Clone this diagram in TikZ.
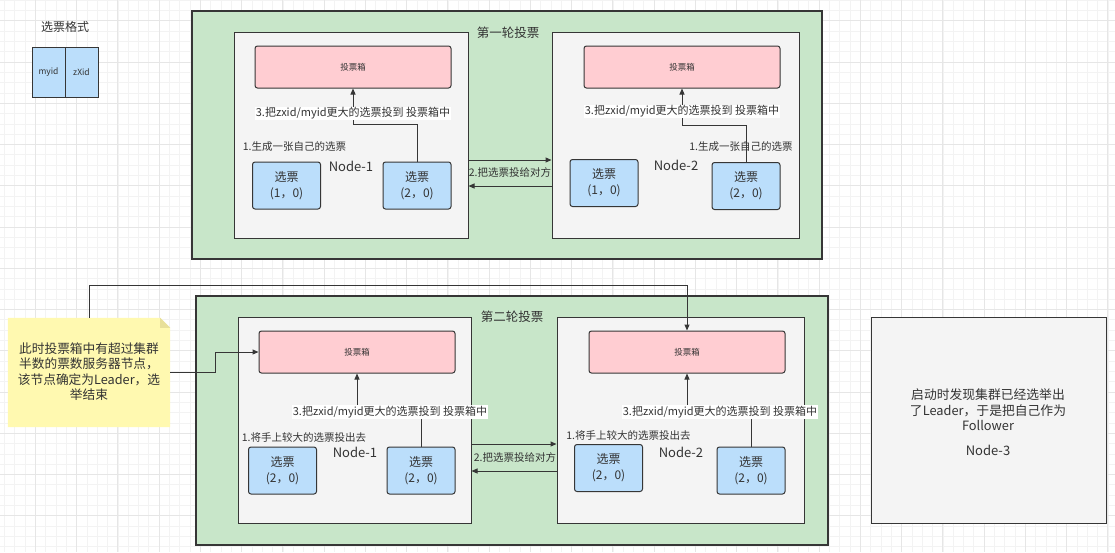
\documentclass[tikz,border=0pt]{standalone}
\usepackage{fontspec}
\setmainfont{Noto Sans CJK SC}
\usetikzlibrary{arrows.meta,calc}
\definecolor{grn}{HTML}{C8E6C9}
\definecolor{gry}{HTML}{F4F4F4}
\definecolor{pnk}{HTML}{FFCDD2}
\definecolor{blu}{HTML}{BBDEFB}
\definecolor{ylw}{HTML}{FFF9B0}
\definecolor{fold}{HTML}{E8E09A}
\definecolor{txt}{HTML}{333333}
\definecolor{edge}{HTML}{363636}
\definecolor{gminor}{HTML}{F3F3F3}
\definecolor{gmajor}{HTML}{E6E6E6}
\tikzset{
  frame/.style={draw=edge, fill=grn, line width=1.1pt, minimum width=#1},
  nodebox/.style={draw=edge, fill=gry, line width=1pt, minimum height=206},
  pinkbox/.style={draw=edge, fill=pnk, rounded corners=2.5pt, line width=1pt, minimum width=196, minimum height=42, text=txt, font=\fontsize{8.5}{10}\selectfont},
  vote/.style={draw=edge, fill=blu, rounded corners=2.5pt, line width=1pt, minimum width=68, minimum height=47, align=center, text=txt, font=\fontsize{12}{16}\selectfont},
  legendbox/.style={draw=edge, fill=blu, line width=1pt, minimum width=33, minimum height=50, text=txt, font=\fontsize{8.5}{10}\selectfont},
  lbl/.style={text=txt, inner sep=1pt, font=\fontsize{10.5}{12}\selectfont},
  steplbl/.style={text=txt, fill=white, inner sep=1pt, font=\fontsize{11}{13}\selectfont},
  title/.style={text=txt, font=\fontsize{12.5}{14}\selectfont},
  nodename/.style={text=txt, font=\fontsize{13}{15}\selectfont},
  arr/.style={-{Triangle[length=6pt,width=5pt]}, line width=1pt, draw=edge},
  minorgrid/.style={draw=gminor, line width=0.6pt},
  majorgrid/.style={draw=gmajor, line width=0.9pt},
}
\begin{document}
\begin{tikzpicture}[x=1pt,y=-1pt]
\useasboundingbox (0,0) rectangle (1115,552);
\fill[white] (0,0) rectangle (1115,552);
% grid
\foreach \i in {0,...,108} { \draw[minorgrid] ({4.4+\i*10.3125},0) -- ++(0,552); }
\foreach \j in {0,...,53} { \draw[minorgrid] (0,{0.075+\j*10.3125}) -- ++(1115,0); }
\foreach \i in {0,...,26} { \draw[majorgrid] ({35.3+\i*41.25},0) -- ++(0,552); }
\foreach \j in {0,...,12} { \draw[majorgrid] (0,{20.7+\j*41.25}) -- ++(1115,0); }

% legend
\node[title, font=\fontsize{12}{14}\selectfont] (lgt) at (65,27) {选票格式};
\node[legendbox] (lg1) at (48.5,72) {myid};
\node[legendbox] (lg2) at (81.5,72) {zXid};

% ===== round 1 =====
\node[frame=630, minimum height=248] (f1) at (507,135) {};
\node[title] (t1) at (508,33) {第一轮投票};
\node[nodebox, minimum width=234] (n1) at (351,135) {};
\node[nodebox, minimum width=247] (n2) at (675.5,135) {};
\node[pinkbox] (p1) at (353,67) {投票箱};
\node[pinkbox] (p2) at (682,67) {投票箱};
\node[vote] (v11) at (286.5,185.5) {选票\\(1，0)};
\node[vote] (v12) at (417,185.5) {选票\\(2，0)};
\node[vote] (v21) at (604,183) {选票\\(1，0)};
\node[vote] (v22) at (746,186) {选票\\(2，0)};
\node[nodename] (nm1) at (351,166) {Node-1};
\node[nodename] (nm2) at (676,165) {Node-2};
\node[lbl] (g1) at (294.5,147) {1.生成一张自己的选票};
\node[lbl] (g2) at (741,147) {1.生成一张自己的选票};
\draw[arr] (v12.north) -- ++(0,-37) -| (p1.south);
\node[steplbl] (s1) at ($(p1.south)+(0,25)$) {3.把zxid/myid更大的选票投到 投票箱中};
\draw[arr] (v22.north) -- ++(0,-37) -| (p2.south);
\node[steplbl] (s2) at ($(p2.south)+(0,23)$) {3.把zxid/myid更大的选票投到 投票箱中};
\draw[arr] ($(n1.east)+(0,25)$) -- ($(n2.west)+(0,25)$);
\draw[arr] ($(n2.west)+(0,51)$) -- ($(n1.east)+(0,51)$);
\node[lbl] (x1) at (510,172) {2.把选票投给对方};

% ===== round 2 =====
\node[frame=632, minimum height=249] (f2) at (512,420.5) {};
\node[title] (t2) at (512,317) {第二轮投票};
\node[nodebox, minimum width=233] (n3) at (354.5,420) {};
\node[nodebox, minimum width=247] (n4) at (680.5,420) {};
\node[pinkbox] (p3) at (357,352) {投票箱};
\node[pinkbox] (p4) at (687,352) {投票箱};
\node[vote] (v31) at (282.5,470.5) {选票\\(2，0)};
\node[vote] (v32) at (421,470.5) {选票\\(2，0)};
\node[vote] (v41) at (608.5,468) {选票\\(2，0)};
\node[vote] (v42) at (751,470.5) {选票\\(2，0)};
\node[nodename] (nm3) at (355,452) {Node-1};
\node[nodename] (nm4) at (681,452) {Node-2};
\node[lbl] (g3) at (304,437) {1.将手上较大的选票投出去};
\node[lbl] (g4) at (628.5,435) {1.将手上较大的选票投出去};
\draw[arr] (v32.north) -- ++(0,-35) -| (p3.south);
\node[steplbl] (s3) at (390,412) {3.把zxid/myid更大的选票投到 投票箱中};
\draw[arr] (v42.north) -- ++(0,-35) -| (p4.south);
\node[steplbl] (s4) at (720,412) {3.把zxid/myid更大的选票投到 投票箱中};
\draw[arr] ($(n3.east)+(0,24)$) -- ($(n4.west)+(0,24)$);
\draw[arr] ($(n4.west)+(0,51)$) -- ($(n3.east)+(0,51)$);
\node[lbl] (x2) at (515,457) {2.把选票投给对方};

% ===== Node-3 =====
\node[nodebox, minimum width=235] (n5) at (988.5,420) {};
\node[text=txt, align=center, font=\fontsize{12.8}{15.5}\selectfont] (n5t) at (988,410) {启动时发现集群已经选举出\\了Leader，于是把自己作为\\Follower};
\node[nodename] (nm5) at (988,450) {Node-3};

% ===== note =====
\node[minimum width=162, minimum height=109, inner sep=0] (note) at (89,372.5) {};
\fill[ylw] (note.north west) -- ($(note.north east)+(-10,0)$) -- ($(note.north east)+(0,10)$) -- (note.south east) -- (note.south west) -- cycle;
\fill[fold] ($(note.north east)+(-10,0)$) -- ($(note.north east)+(0,10)$) -- ($(note.north east)+(-10,10)$) -- cycle;
\node[text=txt, align=center, font=\fontsize{12.7}{15.5}\selectfont] (notet) at (89,371.5) {此时投票箱中有超过集群\\半数的票数服务器节点，\\该节点确定为Leader，选\\举结束};
\draw[arr] (note.east) -- ++(45,0) |- (p3.west);
\draw[arr] (note.north) -- ++(0,-32) -| (p4.north);
\end{tikzpicture}
\end{document}
